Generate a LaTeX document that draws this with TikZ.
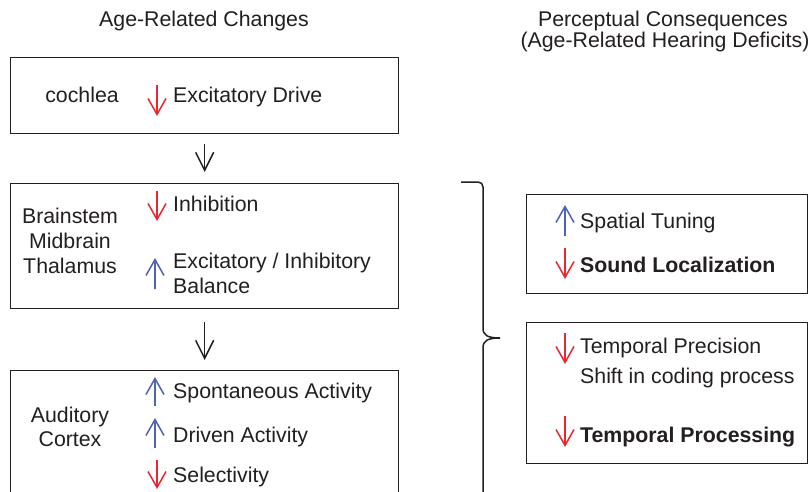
\documentclass[tikz,border=0pt]{standalone}
\usepackage{fontspec}
\setmainfont{Liberation Sans}
\usetikzlibrary{arrows.meta}
\definecolor{ink}{RGB}{35,31,32}
\definecolor{dred}{RGB}{232,40,48}
\definecolor{dblue}{RGB}{78,100,178}
\tikzset{
  lbl/.style={anchor=base west, inner sep=0pt, text=ink, font=\fontsize{21.3}{25}\selectfont},
  blbl/.style={lbl, font=\fontsize{21.3}{25}\selectfont\bfseries},
  clbl/.style={anchor=base, inner sep=0pt, text=ink, font=\fontsize{21.3}{25}\selectfont},
  boxframe/.style={draw=ink, line width=1.3pt, inner sep=0pt, anchor=north west},
  dnarrow/.style={dred, line width=1.5pt, -{Straight Barb[length=16pt,width=18pt]}},
  uparrow/.style={dblue, line width=1.5pt, -{Straight Barb[length=16pt,width=18pt]}},
  flowarrow/.style={ink, line width=1.5pt, -{Straight Barb[length=18pt,width=18pt]}},
}
\begin{document}
\begin{tikzpicture}[x=1pt,y=-1pt]
\clip (0,0) rectangle (811,492);
\fill[white] (0,0) rectangle (811,492);

% headers
\node[clbl] (h1) at (204,27) {Age-Related Changes};
\node[clbl] (h2) at (663,27) {Perceptual Consequences};
\node[clbl] (h3) at (665,48) {(Age-Related Hearing Deficits)};

% left boxes
\node[boxframe, minimum width=388pt, minimum height=76pt] (b1) at (10,57) {};
\node[boxframe, minimum width=388pt, minimum height=125pt] (b2) at (10,183) {};
\node[boxframe, minimum width=388pt, minimum height=160pt] (b3) at (10,370) {};

\draw[flowarrow, shorten <=10pt, shorten >=11pt] (b1.south) -- (b2.north);
\draw[flowarrow, shorten <=13pt, shorten >=10pt] (b2.south) -- (b3.north);

% box 1
\node[clbl] (coch) at (82,103) {cochlea};
\node[lbl] (exd) at (173,103) {Excitatory Drive};
\draw[dnarrow] (157,85) -- (157,116);

% box 2
\node[clbl] (bs) at (70,223) {Brainstem};
\node[clbl] (mb) at (70,248) {Midbrain};
\node[clbl] (th) at (70,273) {Thalamus};
\node[lbl] (inh) at (173,211) {Inhibition};
\node[lbl] (eib) at (173,268) {Excitatory / Inhibitory};
\node[lbl] (bal) at (173,293) {Balance};
\draw[dnarrow] (157,191) -- (157,221);
\draw[uparrow] (155,289) -- (155,258);

% box 3
\node[clbl] (aud) at (70,422) {Auditory};
\node[clbl] (ctx) at (70,446) {Cortex};
\node[lbl] (spa) at (173,398) {Spontaneous Activity};
\node[lbl] (dra) at (173,442) {Driven Activity};
\node[lbl] (sel) at (173,482) {Selectivity};
\draw[uparrow] (155,406) -- (155,377);
\draw[uparrow] (155,448) -- (155,418);
\draw[dnarrow] (157,460) -- (157,489);

% brace
\draw[ink, line width=1.5pt] (461,182) -- (478,182)
  .. controls (481,182) and (483,184) .. (483,187) -- (483,328)
  .. controls (483,335) and (487,338) .. (500,338)
  .. controls (487,338) and (483,341) .. (483,348) -- (483,500);

% right boxes
\node[boxframe, minimum width=281pt, minimum height=99pt] (r1) at (526,194) {};
\node[boxframe, minimum width=281pt, minimum height=141pt] (r2) at (526,322) {};

\node[lbl] (spt) at (580,228) {Spatial Tuning};
\node[blbl] (snd) at (580,272) {Sound Localization};
\draw[uparrow] (565,236) -- (565,205);
\draw[dnarrow] (565,248) -- (565,279);

\node[lbl] (tpr) at (580,353) {Temporal Precision};
\node[lbl] (shf) at (580,383) {Shift in coding process};
\node[blbl] (tpc) at (580,442) {Temporal Processing};
\draw[dnarrow] (565,333) -- (565,364);
\draw[dnarrow] (565,416) -- (565,447);
\end{tikzpicture}
\end{document}
